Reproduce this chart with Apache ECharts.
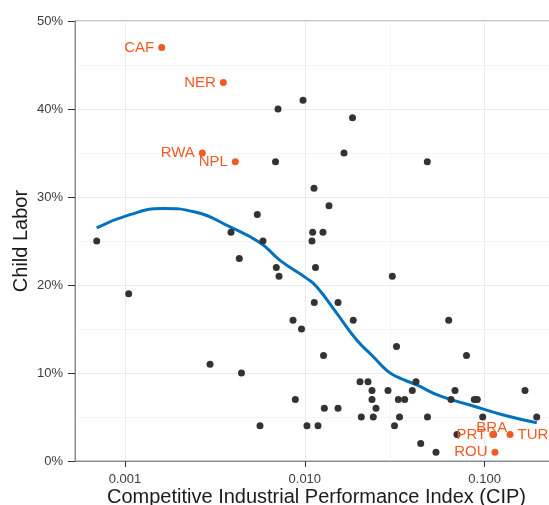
<!DOCTYPE html>
<html>
<head>
<meta charset="utf-8">
<script src="https://cdn.jsdelivr.net/npm/echarts@6/dist/echarts.min.js"></script>
<style>
    html, body { margin: 0; padding: 0; background: #fff; }
    #chart { width: 549px; height: 505px; }
</style>
</head>
<body>
<div id="chart"></div>
<script>
// 其他国家: CIP 指数 与 童工比例(%)
var cipValues = [
    0.000696, 0.001048, 0.002970, 0.004444, 0.005633, 0.004322, 0.003886, 0.005442, 0.005853,
    0.006941, 0.007186, 0.006871, 0.007094, 0.009772, 0.01842, 0.01652, 0.04800, 0.01125,
    0.01363, 0.01106, 0.01262, 0.01096, 0.01147, 0.03067, 0.01129, 0.01530, 0.008600,
    0.009587, 0.01859, 0.06314, 0.03236, 0.01271, 0.07929,
    0.02028, 0.02246, 0.04154,
    0.02364, 0.02902, 0.03961, 0.06844, 0.1678,
    0.008857, 0.02364, 0.03311, 0.03593, 0.06502, 0.08766, 0.09109,
    0.01284, 0.01530, 0.02489,
    0.02062, 0.02404, 0.03363, 0.04812, 0.09759, 0.1949,
    0.01028, 0.01184, 0.03154,
    0.07022, 0.04411, 0.05366
];
var childValues = [
    25, 19, 11, 10, 4, 23, 26, 28, 25,
    22, 21, 34, 40, 41, 39, 35, 34, 31,
    29, 26, 26, 25, 22, 21, 18, 18, 16,
    15, 16, 16, 13, 12, 12,
    9, 9, 9,
    8, 8, 8, 8, 8,
    7, 7, 7, 7, 7, 7, 7,
    6, 6, 6,
    5, 5, 5, 5, 5, 5,
    4, 4, 4,
    3, 2, 1
];

// 标注的国家
var hlNames = ['CAF', 'NER', 'RWA', 'NPL', 'BRA', 'PRT', 'TUR', 'ROU'];
var hlCip = [0.001600, 0.003522, 0.002691, 0.004107, 0.1110, 0.1123, 0.1385, 0.1142];
var hlChild = [47, 43, 35, 34, 3, 3, 3, 1];

// 平滑曲线 (loess)
var fitCip = [0.000696, 0.001066, 0.001626, 0.00245, 0.00384, 0.00564, 0.00728, 0.01025, 0.01164,
    0.01504, 0.01944, 0.02404, 0.02853, 0.03243, 0.04190, 0.05646, 0.08297, 0.1271, 0.1950];
var fitChild = [26.5, 28.0, 28.7, 28.3, 26.6, 24.8, 22.8, 20.75, 19.8,
    16.8, 13.75, 11.85, 10.3, 9.58, 8.64, 7.39, 6.36, 5.23, 4.35];

// 坐标轴范围
var xMin = 0.000527, xMax = 0.256;
var yMin = 0, yMax = 50, yStep = 10;
var minorXGrid = [0.0031623, 0.031623];

var labelSide = { TUR: 'right', BRA: 'top' };
var fontName = '"Liberation Sans", Arial, Helvetica, sans-serif';

function zip(a, b) {
    var out = [];
    for (var i = 0; i < a.length; i++) out.push([a[i], b[i]]);
    return out;
}

var hlData = [];
for (var i = 0; i < hlNames.length; i++) {
    var side = labelSide[hlNames[i]] || 'left';
    hlData.push({
        name: hlNames[i],
        value: [hlCip[i], hlChild[i]],
        label: side === 'top'
            ? { position: 'top', distance: 0, offset: [-1, 4] }
            : { position: side, distance: 4 }
    });
}

var chartDom = document.getElementById('chart');
var myChart = echarts.init(chartDom);
var option = {
    animation: false,
    textStyle: { fontFamily: fontName },
    grid: {
        left: 75,
        top: 21,
        right: -9,
        bottom: 44,
        outerBoundsMode: 'none',
        containLabel: false,
        show: true,
        borderColor: '#8c8c8c',
        borderWidth: 1
    },
    xAxis: {
        type: 'log',
        logBase: 10,
        min: xMin,
        max: xMax,
        name: 'Competitive Industrial Performance Index (CIP)',
        nameLocation: 'middle',
        nameGap: 26,
        nameMoveOverlap: false,
        nameTextStyle: { fontSize: 20, color: '#1a1a1a', fontFamily: fontName },
        axisLine: { show: true, onZero: false, lineStyle: { color: '#8c8c8c' } },
        axisTick: { show: true, length: 6, lineStyle: { color: '#333' } },
        axisLabel: {
            fontSize: 13,
            color: '#3c3c3c',
            margin: 12,
            showMinLabel: false,
            showMaxLabel: false,
            formatter: function (v) { return v.toFixed(3); }
        },
        splitLine: { show: true, lineStyle: { color: '#ebebeb' } }
    },
    yAxis: {
        type: 'value',
        min: yMin,
        max: yMax,
        interval: yStep,
        name: 'Child Labor',
        nameLocation: 'middle',
        nameGap: 44,
        nameMoveOverlap: false,
        nameTextStyle: { fontSize: 20, color: '#1a1a1a', fontFamily: fontName },
        axisLine: { show: true, lineStyle: { color: '#8c8c8c' } },
        axisTick: { show: true, length: 7, lineStyle: { color: '#333' } },
        axisLabel: { fontSize: 13, color: '#3c3c3c', margin: 12, formatter: '{value}%' },
        splitLine: { show: true, lineStyle: { color: '#ebebeb' } },
        minorTick: { show: false, splitNumber: 2 },
        minorSplitLine: { show: true, lineStyle: { color: '#f5f5f5' } }
    },
    series: [
        {
            type: 'line',
            data: zip(fitCip, fitChild),
            smooth: true,
            showSymbol: false,
            lineStyle: { color: '#0072bd', width: 3 },
            z: 2,
            markLine: {
                silent: true,
                symbol: 'none',
                label: { show: false },
                lineStyle: { color: '#f5f5f5', type: 'solid', width: 1 },
                data: minorXGrid.map(function (v) { return { xAxis: v }; }),
                z: 0
            }
        },
        {
            type: 'scatter',
            data: zip(cipValues, childValues),
            symbolSize: 7,
            itemStyle: { color: '#333333', opacity: 1 },
            z: 3
        },
        {
            type: 'scatter',
            data: hlData,
            symbolSize: 7,
            itemStyle: { color: '#f15a24', opacity: 1 },
            label: {
                show: true,
                formatter: '{b}',
                color: '#f15a24',
                fontSize: 15,
                fontFamily: fontName
            },
            z: 4
        }
    ]
};

myChart.setOption(option);
</script>
</body>
</html>
